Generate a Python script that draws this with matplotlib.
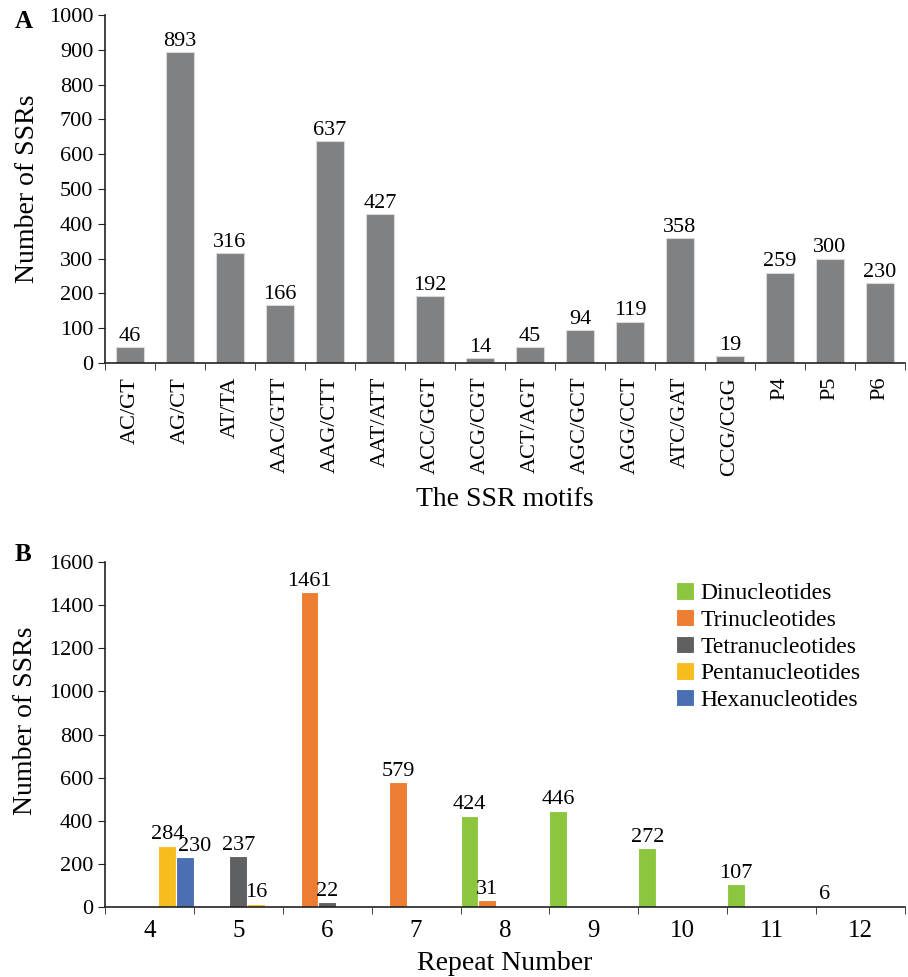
import numpy as np
import matplotlib
matplotlib.use('Agg')
from matplotlib import pyplot as plt

plt.rcParams['font.family'] = ['Liberation Serif', 'DejaVu Serif']

# panel A
motifs = ['AC/GT', 'AG/CT', 'AT/TA', 'AAC/GTT', 'AAG/CTT', 'AAT/ATT', 'ACC/GGT',
          'ACG/CGT', 'ACT/AGT', 'AGC/GCT', 'AGG/CCT', 'ATC/GAT', 'CCG/CGG',
          'P4', 'P5', 'P6']
motif_counts = [46, 893, 316, 166, 637, 427, 192, 14, 45, 94, 119, 358, 19, 259, 300, 230]

# panel B
repeats = ['4', '5', '6', '7', '8', '9', '10', '11', '12']
series_names = ['Dinucleotides', 'Trinucleotides', 'Tetranucleotides',
                'Pentanucleotides', 'Hexanucleotides']
di = [0, 0, 0, 0, 424, 446, 272, 107, 6]
tri = [0, 0, 1461, 579, 31, 0, 0, 0, 0]
tetra = [0, 237, 22, 0, 0, 0, 0, 0, 0]
penta = [284, 16, 0, 0, 0, 0, 0, 0, 0]
hexa = [230, 0, 0, 0, 0, 0, 0, 0, 0]
series_colors = ['#8cc63f', '#ed7d31', '#5f6062', '#f7bc1e', '#4a6fb3']

fig = plt.figure(figsize=(9.08, 9.77), dpi=100)


def style_axes(ax, n):
    ax.spines['top'].set_visible(False)
    ax.spines['right'].set_visible(False)
    ax.spines['left'].set_color('#222222')
    ax.spines['bottom'].set_color('#222222')
    ax.spines['left'].set_linewidth(1.2)
    ax.spines['bottom'].set_linewidth(1.2)
    ax.set_xlim(-0.5, n - 0.5)
    ax.set_xticks(list(np.arange(n) - 0.5) + [n - 0.5], minor=True)
    ax.tick_params(axis='x', which='major', length=0)
    ax.tick_params(axis='x', which='minor', length=5, direction='out', color='#222222')
    ax.tick_params(axis='y', length=5, direction='out', color='#222222', labelsize=16)


# ---- A ----
ax1 = fig.add_axes([0.1156, 0.6285, 0.8811, 0.3561])
x1 = np.arange(len(motifs))
bars = ax1.bar(x1, motif_counts, width=0.55, color='#808183', edgecolor='#d9d9d9', linewidth=0.8)
ax1.bar_label(bars, labels=[str(v) for v in motif_counts], padding=1, fontsize=16)
style_axes(ax1, len(motifs))
ax1.set_ylim(0, 1000)
ax1.set_yticks(np.arange(0, 1001, 100))
ax1.set_xticks(x1)
ax1.set_xticklabels(motifs, rotation=90, fontsize=16)
ax1.tick_params(axis='x', which='major', pad=10)
ax1.set_ylabel('Number of SSRs', fontsize=20, labelpad=6)
ax1.set_xlabel('The SSR motifs', fontsize=20, labelpad=8)
fig.text(0.016, 0.978, 'A', fontsize=18, fontweight='bold', va='center')

# ---- B ----
ax2 = fig.add_axes([0.1156, 0.0716, 0.8811, 0.3532])
x2 = np.arange(len(repeats))
bw = 0.2
all_series = [di, tri, tetra, penta, hexa]
for j, (vals, name, col) in enumerate(zip(all_series, series_names, series_colors)):
    pos = x2 + (j - 2) * bw
    keep = [i for i, v in enumerate(vals) if v > 0]
    b = ax2.bar(pos[keep], [vals[i] for i in keep], width=bw, color=col,
                edgecolor='white', linewidth=0.8, label=name)
    txts = ax2.bar_label(b, labels=[str(vals[i]) for i in keep], padding=1, fontsize=16)
    if name == 'Hexanucleotides':
        # label sits a bit to the right so it does not run into the 284
        for t in txts:
            t.xyann = (7, 1)
style_axes(ax2, len(repeats))
ax2.set_ylim(0, 1600)
ax2.set_yticks(np.arange(0, 1601, 200))
ax2.set_xticks(x2)
ax2.set_xticklabels(repeats, fontsize=18)
ax2.tick_params(axis='x', which='major', pad=9)
ax2.set_ylabel('Number of SSRs', fontsize=20)
ax2.yaxis.set_label_coords(-0.084, 0.54)
ax2.set_xlabel('Repeat Number', fontsize=20, labelpad=7)
ax2.legend(loc='upper left', bbox_to_anchor=(0.702, 0.968), frameon=False, fontsize=17,
           handlelength=0.75, handleheight=0.75, handletextpad=0.3, labelspacing=0.2,
           borderaxespad=0)
fig.text(0.016, 0.432, 'B', fontsize=18, fontweight='bold', va='center')

fig.savefig('out.png', dpi=100)
